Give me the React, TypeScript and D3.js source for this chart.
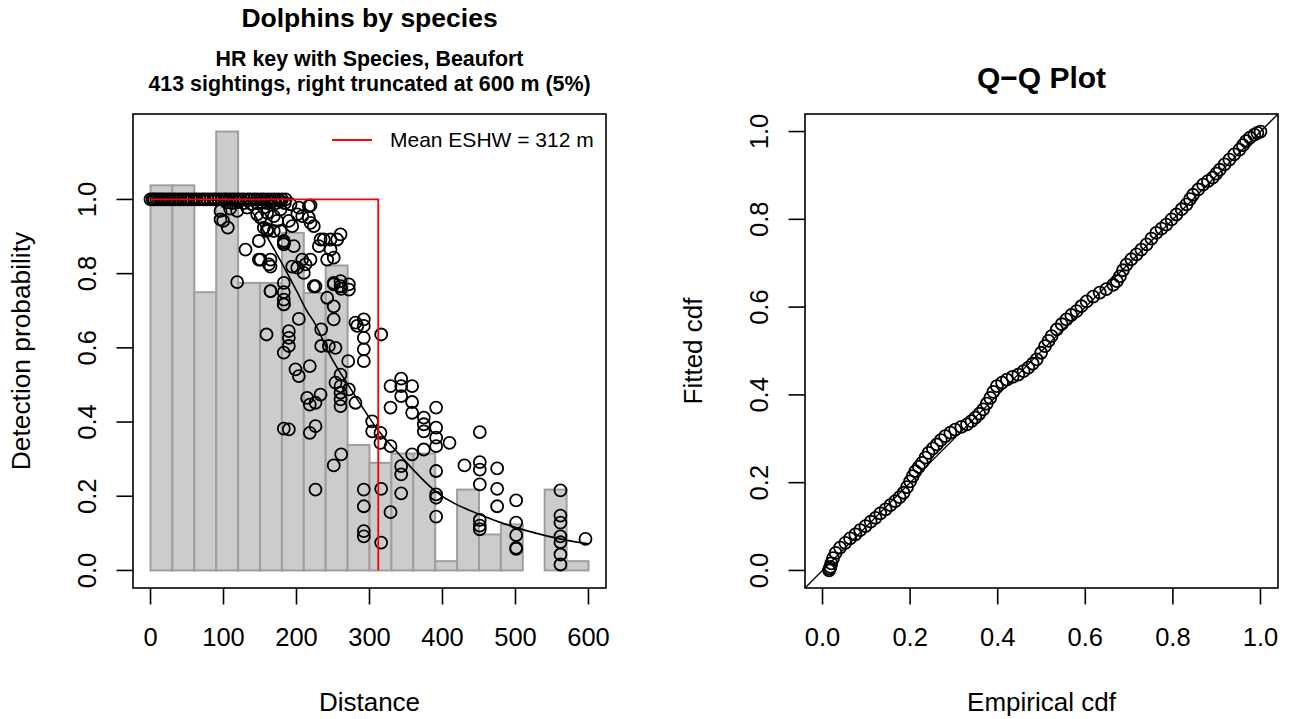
import React, { useEffect, useRef } from 'react';
import * as d3 from 'd3';

// histogram of scaled counts, 30 m bins from 0 to 600
const histBreaks = [0, 30, 60, 90, 120, 150, 180, 210, 240, 270, 300, 330, 360, 390, 420, 450, 480, 510, 540, 570, 600];
const histHeights = [1.038, 1.038, 0.75, 1.183, 0.775, 0.775, 0.91, 0.748, 0.822, 0.338, 0.29, 0.315, 0.315, 0.025, 0.218, 0.097, 0.124, 0, 0.218, 0.025];

// sightings with p = 1 (the solid band at the top)
const onesDist = [0, 3, 5, 8, 11, 14, 17, 20, 24, 27, 31, 34, 38, 41, 45, 49, 52, 56, 60, 63, 67, 71, 74, 78, 82, 86, 89, 93, 97, 101, 104, 108, 112, 116, 120, 124, 128, 133, 137, 142, 146, 151, 155, 160, 165, 170, 175, 180, 185];

// other sightings: [distance, detection probability]
const scatter: [number, number][] = [
  [104, 0.992], [112, 0.99], [120, 0.993], [128, 0.99], [138, 0.988], [146, 0.99], [152, 0.992], [160, 0.99], [165, 0.993], [172, 0.99], [178, 0.995], [184, 0.99],
  [95.9, 0.969], [95.9, 0.946], [105.9, 0.924], [99.6, 0.942], [118.7, 0.969], [109, 0.975], [132.4, 0.978], [146.1, 0.96], [150.7, 0.951], [159.8, 0.919],
  [130.1, 0.865], [118.7, 0.777], [148.4, 0.838], [162.1, 0.825], [164.4, 0.753], [182.6, 0.883], [182.6, 0.75], [182.6, 0.73], [182.6, 0.717],
  [216.9, 0.982], [203.2, 0.978], [191.8, 0.987], [219.2, 0.984], [201, 0.96], [207.8, 0.955], [216.9, 0.951], [219.2, 0.937], [189.5, 0.942], [194.1, 0.928],
  [223.7, 0.928], [159.8, 0.964], [168.9, 0.955], [155.2, 0.978], [178.1, 0.973], [173.6, 0.942],
  [148.4, 0.888], [150.7, 0.838], [164.4, 0.838], [164.4, 0.819], [155.2, 0.924], [159.8, 0.915], [168.9, 0.915], [178.1, 0.915], [182.6, 0.888], [182.6, 0.879],
  [196.3, 0.874], [207.8, 0.838], [219.2, 0.838], [212.3, 0.825], [210, 0.802], [226, 0.766], [201, 0.816], [194.1, 0.819], [232.9, 0.892], [237.4, 0.892],
  [246.6, 0.892], [260.3, 0.906], [242, 0.838], [251, 0.843], [246.6, 0.865], [255.7, 0.892], [230.6, 0.874], [251, 0.775], [260.3, 0.766],
  [158.9, 0.636], [164.4, 0.753], [182.6, 0.775], [182.6, 0.717], [189.5, 0.645], [189.5, 0.627], [189.5, 0.605], [182.6, 0.587], [203.2, 0.678],
  [198.6, 0.542], [203.2, 0.524], [218.2, 0.551], [214.6, 0.465], [218.2, 0.447], [226, 0.452], [232.9, 0.474], [182.6, 0.382], [189.5, 0.38],
  [218.2, 0.371], [226, 0.389], [226, 0.218], [223.7, 0.766], [242, 0.735], [251, 0.712], [251, 0.677], [233.8, 0.65], [233.8, 0.605], [244.3, 0.605],
  [253.4, 0.6], [251, 0.771], [260.3, 0.78], [261.2, 0.759], [271.7, 0.771], [271.7, 0.757], [270.8, 0.564], [260.3, 0.528], [253.4, 0.506],
  [260.3, 0.497], [260.3, 0.479], [260.3, 0.461], [260.3, 0.443], [271.7, 0.488], [280.8, 0.452], [251, 0.283], [261.2, 0.313],
  [280.8, 0.668], [283.2, 0.659], [292.2, 0.677], [292.2, 0.659], [292.2, 0.627], [292.2, 0.596], [292.2, 0.564], [316, 0.636],
  [303.7, 0.402], [303.7, 0.375], [315, 0.371], [315, 0.344], [328.8, 0.335], [292.2, 0.218], [292.2, 0.173], [292.2, 0.106], [292.2, 0.092],
  [316, 0.22], [328.8, 0.157], [316, 0.075], [328.8, 0.497], [328.8, 0.439], [343.4, 0.517], [343.4, 0.497], [343.4, 0.47], [358.4, 0.497],
  [358.4, 0.454], [358.4, 0.425], [343.4, 0.281], [343.4, 0.259], [343.4, 0.208], [358.4, 0.313], [374.4, 0.412], [374.4, 0.394], [374.4, 0.375],
  [374.4, 0.326], [391.3, 0.439], [391.3, 0.385], [391.3, 0.358], [391.3, 0.335], [409.6, 0.344], [391.3, 0.268], [391.3, 0.205], [391.3, 0.196],
  [391.3, 0.145], [430.1, 0.283], [451.1, 0.373], [451.1, 0.292], [451.1, 0.272], [451.1, 0.232], [451.1, 0.136], [451.1, 0.121], [451.1, 0.111],
  [474.9, 0.275], [474.9, 0.22], [474.9, 0.173], [500.9, 0.189], [500.9, 0.129], [500.9, 0.095], [500.9, 0.061], [500.9, 0.058],
  [561.6, 0.216], [561.6, 0.148], [561.6, 0.129], [561.6, 0.092], [561.6, 0.076], [561.6, 0.043], [561.6, 0.016], [595.9, 0.085],
];

// average fitted detection function
const fitDist = [0, 60, 90, 110, 128, 140, 155, 178, 201, 214, 224, 246, 274, 313, 342, 390, 457, 525, 596, 600];
const fitProb = [1, 1, 0.998, 0.993, 0.985, 0.965, 0.915, 0.835, 0.75, 0.7, 0.67, 0.58, 0.49, 0.375, 0.31, 0.214, 0.146, 0.102, 0.073, 0.072];

const eshw = 312;

// Q-Q plot: empirical cdf vs fitted cdf
const qqEmp = [
  0.015, 0.016, 0.018, 0.02, 0.024, 0.03, 0.04, 0.052, 0.063, 0.075, 0.086, 0.098, 0.11, 0.121, 0.132, 0.144, 0.155, 0.166, 0.176, 0.185,
  0.193, 0.2, 0.206, 0.212, 0.22, 0.227, 0.235, 0.242, 0.252, 0.261, 0.27, 0.28, 0.292, 0.303, 0.317, 0.33, 0.34, 0.349, 0.358, 0.367,
  0.375, 0.383, 0.39, 0.398, 0.41, 0.421, 0.434, 0.447, 0.459, 0.47, 0.48, 0.489, 0.499, 0.508, 0.516, 0.523, 0.535, 0.546, 0.557, 0.568,
  0.58, 0.591, 0.603, 0.618, 0.633, 0.648, 0.664, 0.672, 0.679, 0.686, 0.694, 0.705, 0.717, 0.728, 0.74, 0.751, 0.762, 0.774, 0.785, 0.797,
  0.808, 0.82, 0.831, 0.839, 0.846, 0.858, 0.869, 0.88, 0.891, 0.899, 0.907, 0.918, 0.929, 0.94, 0.952, 0.96, 0.967, 0.976, 0.986, 0.993, 1.0,
];
const qqFit = [
  0.0, 0.004, 0.008, 0.016, 0.028, 0.04, 0.052, 0.063, 0.073, 0.082, 0.092, 0.101, 0.111, 0.12, 0.13, 0.139, 0.149, 0.158, 0.167, 0.177,
  0.19, 0.203, 0.215, 0.226, 0.236, 0.245, 0.257, 0.268, 0.278, 0.287, 0.297, 0.306, 0.314, 0.321, 0.327, 0.333, 0.34, 0.348, 0.357, 0.367,
  0.38, 0.393, 0.407, 0.42, 0.428, 0.435, 0.441, 0.446, 0.454, 0.462, 0.471, 0.481, 0.496, 0.511, 0.523, 0.534, 0.549, 0.561, 0.572, 0.582,
  0.591, 0.602, 0.613, 0.624, 0.633, 0.641, 0.651, 0.659, 0.67, 0.684, 0.697, 0.709, 0.72, 0.731, 0.743, 0.756, 0.769, 0.779, 0.788, 0.8,
  0.811, 0.823, 0.834, 0.846, 0.856, 0.868, 0.879, 0.887, 0.895, 0.904, 0.913, 0.925, 0.936, 0.948, 0.959, 0.969, 0.978, 0.986, 0.993, 0.997, 1.0,
];

const distTicks = [0, 100, 200, 300, 400, 500, 600];
const probTicks = [0, 0.2, 0.4, 0.6, 0.8, 1.0];

const FONT = '"Liberation Sans", Arial, Helvetica, sans-serif';
const PT_R = 6;
const PT_W = 1.8;

const App = () => {
  const svgRef = useRef<SVGSVGElement>(null);

  useEffect(() => {
    const svg = d3.select(svgRef.current);
    svg.selectAll('*').remove();
    svg.style('font-family', FONT);

    const ymax = d3.max(histHeights) as number;
    const xL = d3.scaleLinear().domain([-24, 624]).range([133, 606]);
    const yL = d3.scaleLinear().domain([-0.04 * ymax, 1.04 * ymax]).range([588, 114]);
    const xR = d3.scaleLinear().domain([-0.04, 1.04]).range([805, 1278]);
    const yR = d3.scaleLinear().domain([-0.04, 1.04]).range([588, 114]);

    const defs = svg.append('defs');
    defs.append('clipPath').attr('id', 'clipL').append('rect')
      .attr('x', 133).attr('y', 114).attr('width', 473).attr('height', 474);
    defs.append('clipPath').attr('id', 'clipR').append('rect')
      .attr('x', 805).attr('y', 114).attr('width', 473).attr('height', 474);

    // ---------- left panel ----------
    const left = svg.append('g').attr('clip-path', 'url(#clipL)');

    left.selectAll('.bar')
      .data(histHeights)
      .join('rect')
      .attr('class', 'bar')
      .attr('x', (d, i) => xL(histBreaks[i]))
      .attr('width', (d, i) => xL(histBreaks[i + 1]) - xL(histBreaks[i]))
      .attr('y', d => yL(d))
      .attr('height', d => yL(0) - yL(d))
      .attr('fill', '#cccccc')
      .attr('stroke', '#9e9e9e')
      .attr('stroke-width', 2);

    const pts: [number, number][] = onesDist.map(d => [d, 1] as [number, number]).concat(scatter);
    left.selectAll('.pt')
      .data(pts)
      .join('circle')
      .attr('class', 'pt')
      .attr('cx', d => xL(d[0]))
      .attr('cy', d => yL(d[1]))
      .attr('r', PT_R)
      .attr('fill', 'none')
      .attr('stroke', '#000')
      .attr('stroke-width', PT_W);

    const fitLine = d3.line<number>()
      .x((d, i) => xL(fitDist[i]))
      .y(d => yL(d))
      .curve(d3.curveMonotoneX);
    left.append('path')
      .attr('d', fitLine(fitProb))
      .attr('fill', 'none')
      .attr('stroke', '#000')
      .attr('stroke-width', 1.6);

    left.append('path')
      .attr('d', `M${xL(0)},${yL(1)}H${xL(eshw)}V${yL(0)}`)
      .attr('fill', 'none')
      .attr('stroke', '#ff0000')
      .attr('stroke-width', 1.8);

    // legend
    svg.append('line')
      .attr('x1', 332).attr('x2', 372).attr('y1', 140).attr('y2', 140)
      .attr('stroke', '#ff0000').attr('stroke-width', 1.8);
    svg.append('text')
      .attr('x', 390).attr('y', 147)
      .attr('font-size', 21)
      .text(`Mean ESHW = ${eshw} m`);

    // axes helper (R style)
    const drawAxes = (x: d3.ScaleLinear<number, number>, y: d3.ScaleLinear<number, number>,
      xTicks: number[], yTicks: number[], xFmt: (v: number) => string, yFmt: (v: number) => string) => {
      const [x0, x1] = x.range();
      const [y0, y1] = y.range();
      const g = svg.append('g');
      g.append('rect')
        .attr('x', x0).attr('y', y1).attr('width', x1 - x0).attr('height', y0 - y1)
        .attr('fill', 'none').attr('stroke', '#000').attr('stroke-width', 1.6);
      g.selectAll('.xt').data(xTicks).join('line')
        .attr('x1', d => x(d)).attr('x2', d => x(d))
        .attr('y1', y0).attr('y2', y0 + 16.5)
        .attr('stroke', '#000').attr('stroke-width', 1.6);
      g.selectAll('.xl').data(xTicks).join('text')
        .attr('x', d => x(d)).attr('y', 646)
        .attr('text-anchor', 'middle').attr('font-size', 25.5)
        .text(xFmt);
      g.selectAll('.yt').data(yTicks).join('line')
        .attr('x1', x0 - 16.5).attr('x2', x0)
        .attr('y1', d => y(d)).attr('y2', d => y(d))
        .attr('stroke', '#000').attr('stroke-width', 1.6);
      g.selectAll('.yl').data(yTicks).join('text')
        .attr('transform', d => `translate(${x0 - 37},${y(d)}) rotate(-90)`)
        .attr('text-anchor', 'middle').attr('font-size', 25.5)
        .text(yFmt);
    };

    drawAxes(xL, yL, distTicks, probTicks, d => String(d), d => d3.format('.1f')(d));

    const cxL = (133 + 606) / 2;
    svg.append('text').attr('x', cxL).attr('y', 27)
      .attr('text-anchor', 'middle').attr('font-size', 26.5).attr('font-weight', 'bold')
      .text('Dolphins by species');
    svg.append('text').attr('x', cxL).attr('y', 66)
      .attr('text-anchor', 'middle').attr('font-size', 21.4).attr('font-weight', 'bold')
      .text('HR key with Species, Beaufort');
    svg.append('text').attr('x', cxL).attr('y', 91)
      .attr('text-anchor', 'middle').attr('font-size', 21.4).attr('font-weight', 'bold')
      .text('413 sightings, right truncated at 600 m (5%)');
    svg.append('text').attr('x', cxL).attr('y', 711)
      .attr('text-anchor', 'middle').attr('font-size', 26)
      .text('Distance');
    svg.append('text')
      .attr('transform', `translate(30,${(114 + 588) / 2}) rotate(-90)`)
      .attr('text-anchor', 'middle').attr('font-size', 26.3)
      .text('Detection probability');

    // ---------- right panel ----------
    const right = svg.append('g').attr('clip-path', 'url(#clipR)');
    right.append('line')
      .attr('x1', xR(-0.04)).attr('y1', yR(-0.04))
      .attr('x2', xR(1.04)).attr('y2', yR(1.04))
      .attr('stroke', '#000').attr('stroke-width', 1.3);
    right.selectAll('.qq')
      .data(qqEmp)
      .join('circle')
      .attr('class', 'qq')
      .attr('cx', d => xR(d))
      .attr('cy', (d, i) => yR(qqFit[i]))
      .attr('r', PT_R)
      .attr('fill', 'none')
      .attr('stroke', '#000')
      .attr('stroke-width', PT_W);

    drawAxes(xR, yR, probTicks, probTicks, d => d3.format('.1f')(d), d => d3.format('.1f')(d));

    const cxR = (805 + 1278) / 2;
    svg.append('text').attr('x', cxR).attr('y', 88)
      .attr('text-anchor', 'middle').attr('font-size', 30).attr('font-weight', 'bold')
      .text('Q\u2212Q Plot');
    svg.append('text').attr('x', cxR).attr('y', 711)
      .attr('text-anchor', 'middle').attr('font-size', 26)
      .text('Empirical cdf');
    svg.append('text')
      .attr('transform', `translate(702,${(114 + 588) / 2}) rotate(-90)`)
      .attr('text-anchor', 'middle').attr('font-size', 26)
      .text('Fitted cdf');
  }, []);

  return (
    <svg
      ref={svgRef}
      width={1290}
      height={719}
      style={{ position: 'absolute', left: 0, top: 0, background: '#fff' }}
    />
  );
};

export default App;
